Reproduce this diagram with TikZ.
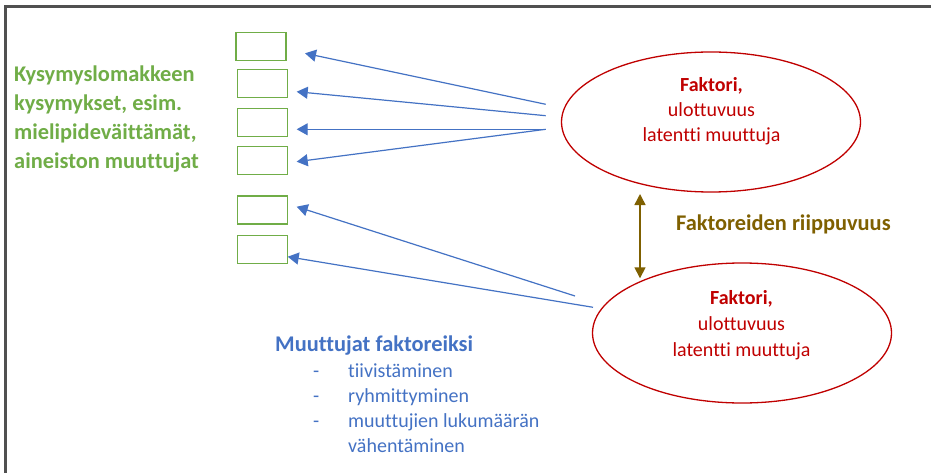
\documentclass[tikz,border=0pt]{standalone}
\usepackage{fontspec}
\setmainfont{Carlito}[Ligatures=NoCommon]
\usetikzlibrary{arrows.meta,shapes.geometric}
\definecolor{qgreen}{HTML}{70AD47}
\definecolor{qblue}{HTML}{4472C4}
\definecolor{qred}{HTML}{C00000}
\definecolor{qolive}{HTML}{7F6000}
\definecolor{framegray}{HTML}{505050}
\tikzset{
  itembox/.style={draw=qgreen, line width=1.3pt, minimum width=50pt, minimum height=28pt, inner sep=0pt},
  factor/.style={ellipse, draw=qred, line width=1.3pt, minimum width=299pt, minimum height=140pt, inner sep=0pt},
  loading/.style={draw=qblue, line width=1.2pt, -{Triangle[length=11pt,width=12pt]}},
  depend/.style={draw=qolive, line width=1.5pt, {Triangle[length=11pt,width=11pt]}-{Triangle[length=11pt,width=11pt]}},
  vartext/.style={text=qgreen, font=\fontsize{22.4}{28}\selectfont\bfseries, anchor=base west, inner sep=0pt},
  factitle/.style={text=qred, font=\fontsize{20}{25}\selectfont\bfseries, anchor=base, inner sep=0pt},
  facline/.style={text=qred, font=\fontsize{20}{25}\selectfont, anchor=base, inner sep=0pt},
  listhead/.style={text=qblue, font=\fontsize{22.4}{28}\selectfont\bfseries, anchor=base west, inner sep=0pt},
  listitem/.style={text=qblue, font=\fontsize{20}{25}\selectfont, anchor=base west, inner sep=0pt},
}
\begin{document}
\begin{tikzpicture}[x=1pt,y=-1pt]
\useasboundingbox (0,0) rectangle (931,473);
\fill[white] (0,0) rectangle (931,473);

% frame
\draw[framegray, line width=2.5pt] (931,6.5) -- (5.5,6.5) -- (5.5,473);

% observed variables
\node[vartext] (v1) at (14,82) {Kysymyslomakkeen};
\node[vartext] (v2) at (14,111) {kysymykset, esim.};
\node[vartext] (v3) at (14,140) {mielipideväittämät,};
\node[vartext] (v4) at (14,168.5) {aineiston muuttujat};

\node[itembox] (b1) at (261,46.7) {};
\node[itembox] (b2) at (262.2,83.8) {};
\node[itembox] (b3) at (262.2,122.3) {};
\node[itembox] (b4) at (262.2,160.2) {};
\node[itembox] (b5) at (262.2,210) {};
\node[itembox] (b6) at (262.2,249.7) {};

% factors
\node[factor] (f1) at (711,122) {};
\node[factitle] (f1a) at (711.5,91.7) {Faktori,};
\node[facline] (f1b) at (711.5,117) {ulottuvuus};
\node[facline] (f1c) at (711.5,142) {latentti muuttuja};

\node[factor] (f2) at (742,333) {};
\node[factitle] (f2a) at (741.5,304) {Faktori,};
\node[facline] (f2b) at (741.5,330.5) {ulottuvuus};
\node[facline] (f2c) at (741.5,356.5) {latentti muuttuja};

% loadings
\coordinate (s1) at (545.7,104.3);
\coordinate (s2) at (545.7,115.7);
\coordinate (s3) at (545.7,129.3);
\coordinate (s5) at (575,296);
\coordinate (s6) at (593,307.3);
\coordinate (t1) at (305,53.3);
\coordinate (t2) at (296.7,91.7);
\coordinate (t3) at (296.7,129.3);
\coordinate (t4) at (296.7,161.7);
\coordinate (t5) at (296.7,206.7);
\coordinate (t6) at (287.7,256.7);
\draw[loading] (s1) -- (t1);
\draw[loading] (s2) -- (t2);
\draw[loading] (s3) -- (t3);
\draw[loading] (s3) -- (t4);
\draw[loading] (s5) -- (t5);
\draw[loading] (s6) -- (t6);

% factor dependence
\coordinate (d1) at (640,194);
\coordinate (d2) at (640,278.3);
\draw[depend] (d1) -- (d2);
\node[text=qolive, font=\fontsize{22.4}{28}\selectfont\bfseries, anchor=base west, inner sep=0pt] (dep) at (676,230) {Faktoreiden riippuvuus};

% summary list
\node[listhead] (lh) at (275,351.7) {Muuttujat faktoreiksi};
\node[listitem] (d1m) at (313,377.3) {-};
\node[listitem] (l1) at (348,377.3) {tiivistäminen};
\node[listitem] (d2m) at (313,402.3) {-};
\node[listitem] (l2) at (348,402.3) {ryhmittyminen};
\node[listitem] (d3m) at (313,427.3) {-};
\node[listitem] (l3) at (348,427.3) {muuttujien lukumäärän};
\node[listitem] (l4) at (348,452.3) {vähentäminen};
\end{tikzpicture}
\end{document}
